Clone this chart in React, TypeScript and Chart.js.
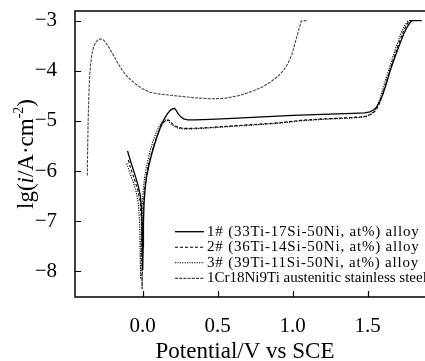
import React, { useEffect, useRef } from 'react';
import { Chart, registerables } from 'chart.js';

Chart.register(...registerables);

const FONT = "'Liberation Serif', 'Times New Roman', serif";

const X_TICKS = [0, 0.5, 1.0, 1.5];
const Y_TICKS = [-8, -7, -6, -5, -4, -3];
const X_MIN = -0.45;
const X_MAX = 1.882;
const Y_MIN = -8.51;
const Y_MAX = -2.81;

const LEGEND_LABELS = [
  '1# (33Ti-17Si-50Ni, at%) alloy',
  '2# (36Ti-14Si-50Ni, at%) alloy',
  '3# (39Ti-11Si-50Ni, at%) alloy',
  '1Cr18Ni9Ti austenitic stainless steel',
];

const X_TITLE = 'Potential/V vs SCE';

// 1# alloy (solid)
const alloy1X = [-0.100, -0.075, -0.050, -0.030, -0.014, -0.006, -0.002, 0.000, 0.002, 0.004, 0.006, 0.010, 0.017, 0.028, 0.045, 0.065, 0.085, 0.105, 0.125, 0.145, 0.165, 0.185, 0.200, 0.212, 0.224, 0.238, 0.255, 0.275, 0.300, 0.350, 0.450, 0.600, 0.800, 1.000, 1.200, 1.400, 1.480, 1.515, 1.540, 1.560, 1.580, 1.600, 1.625, 1.650, 1.680, 1.710, 1.740, 1.765, 1.785, 1.797, 1.860];
const alloy1Y = [-5.60, -5.85, -6.08, -6.28, -6.50, -6.80, -7.20, -7.60, -7.97, -7.50, -7.05, -6.65, -6.35, -6.10, -5.85, -5.62, -5.42, -5.24, -5.08, -4.96, -4.86, -4.79, -4.76, -4.75, -4.79, -4.86, -4.92, -4.96, -4.98, -4.98, -4.97, -4.95, -4.92, -4.89, -4.87, -4.85, -4.84, -4.82, -4.78, -4.72, -4.62, -4.48, -4.25, -4.00, -3.74, -3.50, -3.27, -3.12, -3.03, -3.00, -3.00];

// 2# alloy (dashed)
const alloy2X = [-0.095, -0.075, -0.052, -0.032, -0.016, -0.008, -0.005, -0.004, -0.003, -0.001, 0.001, 0.005, 0.012, 0.022, 0.038, 0.058, 0.078, 0.098, 0.118, 0.138, 0.155, 0.170, 0.182, 0.196, 0.215, 0.240, 0.270, 0.320, 0.400, 0.550, 0.700, 0.900, 1.050, 1.200, 1.350, 1.460, 1.500, 1.530, 1.555, 1.575, 1.595, 1.620, 1.645, 1.675, 1.705, 1.735, 1.758, 1.775, 1.785, 1.850];
const alloy2Y = [-5.78, -5.98, -6.18, -6.38, -6.60, -6.95, -7.40, -7.90, -8.35, -7.80, -7.20, -6.75, -6.42, -6.15, -5.90, -5.66, -5.46, -5.29, -5.14, -5.04, -4.99, -4.98, -5.00, -5.05, -5.10, -5.13, -5.15, -5.15, -5.14, -5.11, -5.08, -5.04, -4.99, -4.96, -4.94, -4.92, -4.90, -4.86, -4.79, -4.68, -4.52, -4.27, -4.02, -3.74, -3.48, -3.24, -3.09, -3.02, -3.00, -3.00];

// 3# alloy (dotted)
const alloy3X = [-0.105, -0.085, -0.062, -0.042, -0.028, -0.020, -0.017, -0.015, -0.013, -0.010, -0.007, -0.003, 0.004, 0.014, 0.030, 0.050, 0.070, 0.090, 0.110, 0.130, 0.148, 0.162, 0.175, 0.190, 0.210, 0.235, 0.270, 0.320, 0.400, 0.550, 0.700, 0.900, 1.050, 1.200, 1.350, 1.450, 1.490, 1.520, 1.545, 1.565, 1.585, 1.610, 1.635, 1.665, 1.695, 1.725, 1.750, 1.768, 1.778, 1.850];
const alloy3Y = [-5.85, -6.03, -6.22, -6.42, -6.65, -7.00, -7.40, -7.80, -8.15, -7.70, -7.15, -6.72, -6.40, -6.12, -5.86, -5.60, -5.40, -5.24, -5.11, -5.03, -4.99, -4.98, -5.01, -5.06, -5.11, -5.14, -5.16, -5.16, -5.15, -5.12, -5.09, -5.05, -5.00, -4.97, -4.95, -4.93, -4.91, -4.87, -4.80, -4.69, -4.53, -4.28, -4.03, -3.75, -3.48, -3.23, -3.08, -3.01, -3.00, -3.00];

// 1Cr18Ni9Ti stainless steel
const steelX = [-0.368, -0.366, -0.363, -0.359, -0.354, -0.347, -0.338, -0.326, -0.312, -0.298, -0.285, -0.273, -0.260, -0.245, -0.225, -0.200, -0.170, -0.140, -0.110, -0.080, -0.040, 0.000, 0.050, 0.100, 0.160, 0.250, 0.350, 0.450, 0.550, 0.650, 0.740, 0.800, 0.850, 0.900, 0.940, 0.970, 0.995, 1.015, 1.032, 1.047, 1.058, 1.095];
const steelY = [-6.09, -5.60, -5.10, -4.60, -4.20, -3.90, -3.68, -3.52, -3.43, -3.385, -3.37, -3.37, -3.39, -3.44, -3.53, -3.66, -3.82, -3.97, -4.09, -4.18, -4.28, -4.36, -4.43, -4.46, -4.48, -4.51, -4.54, -4.56, -4.55, -4.49, -4.40, -4.32, -4.23, -4.12, -3.99, -3.85, -3.68, -3.46, -3.28, -3.12, -3.01, -3.00];

const SERIES = [
  { label: LEGEND_LABELS[0], xs: alloy1X, ys: alloy1Y, color: '#000000', dash: [] as number[], width: 1.3, spacing: 0.8 },
  { label: LEGEND_LABELS[1], xs: alloy2X, ys: alloy2Y, color: '#000000', dash: [3, 2], width: 1.1, spacing: 0.8 },
  { label: LEGEND_LABELS[2], xs: alloy3X, ys: alloy3Y, color: '#000000', dash: [1.2, 1.2], width: 1.1, spacing: 0.8 },
  { label: LEGEND_LABELS[3], xs: steelX, ys: steelY, color: '#444444', dash: [3, 1.2], width: 1.1, spacing: 0 },
];

const fmtX = (v: number) => (v < 0 ? '\u2212' : '') + Math.abs(v).toFixed(1);
const fmtY = (v: number) => (v < 0 ? '\u2212' : '') + Math.abs(v).toString();

const decorPlugin = {
  id: 'decor',
  afterDatasetsDraw(chart: any) {
    const { ctx, chartArea, scales } = chart;
    const { left, top, right, bottom } = chartArea;
    const xs = scales.x;
    const ys = scales.y;
    ctx.save();
    // frame (left, top, bottom)
    ctx.strokeStyle = '#000';
    ctx.lineWidth = 1.5;
    ctx.setLineDash([]);
    ctx.beginPath();
    ctx.moveTo(right + 2, top);
    ctx.lineTo(left, top);
    ctx.lineTo(left, bottom);
    ctx.lineTo(right + 2, bottom);
    ctx.stroke();
    // inward ticks
    ctx.lineWidth = 1.2;
    ctx.beginPath();
    X_TICKS.forEach((v) => {
      const px = Math.round(xs.getPixelForValue(v)) + 0.5;
      ctx.moveTo(px, bottom);
      ctx.lineTo(px, bottom - 6);
    });
    Y_TICKS.forEach((v) => {
      const py = Math.round(ys.getPixelForValue(v)) + 0.5;
      ctx.moveTo(left, py);
      ctx.lineTo(left + 6, py);
    });
    ctx.stroke();

    // legend
    const legLineX0 = 175;
    const legLineX1 = 204;
    const legTextX = 207;
    const legTop = 231.7;
    const legRow = 15.55;
    ctx.font = `15px ${FONT}`;
    ctx.fillStyle = '#000';
    ctx.textBaseline = 'alphabetic';
    ctx.textAlign = 'left';
    SERIES.forEach((s, i) => {
      const cy = legTop + i * legRow;
      ctx.strokeStyle = s.color;
      ctx.lineWidth = s.width;
      ctx.setLineDash(s.dash);
      ctx.beginPath();
      ctx.moveTo(legLineX0, cy);
      ctx.lineTo(legLineX1, cy);
      ctx.stroke();
      if ('letterSpacing' in ctx) (ctx as any).letterSpacing = `${s.spacing}px`;
      ctx.fillText(s.label, legTextX, cy + 4);
    });
    if ('letterSpacing' in ctx) (ctx as any).letterSpacing = '0px';
    ctx.setLineDash([]);

    // x title
    ctx.font = `23px ${FONT}`;
    ctx.textAlign = 'center';
    ctx.fillText(X_TITLE, 245, 358);

    // y title: lg(i/A·cm^-2)
    const cyT = (top + bottom) / 2;
    ctx.translate(33, cyT);
    ctx.rotate(-Math.PI / 2);
    const parts = [
      { t: 'lg(', f: `23px ${FONT}`, dy: 0 },
      { t: 'i', f: `italic 23px ${FONT}`, dy: 0 },
      { t: '/A\u00b7cm', f: `23px ${FONT}`, dy: 0 },
      { t: '-2', f: `14px ${FONT}`, dy: -10 },
      { t: ')', f: `23px ${FONT}`, dy: 0 },
    ];
    let total = 0;
    parts.forEach((p) => {
      ctx.font = p.f;
      total += ctx.measureText(p.t).width;
    });
    let cx = -total / 2;
    ctx.textAlign = 'left';
    parts.forEach((p) => {
      ctx.font = p.f;
      ctx.fillText(p.t, cx, p.dy);
      cx += ctx.measureText(p.t).width;
    });
    ctx.restore();
  },
};

export default function App() {
  const ref = useRef<HTMLCanvasElement>(null);
  useEffect(() => {
    const canvas = ref.current;
    if (!canvas) return;
    const chart = new Chart(canvas, {
      type: 'scatter',
      data: {
        datasets: SERIES.map((s) => ({
          label: s.label,
          data: s.xs.map((x, i) => ({ x, y: s.ys[i] })),
          showLine: true,
          borderColor: s.color,
          borderWidth: s.width,
          borderDash: s.dash,
          pointRadius: 0,
          pointHoverRadius: 0,
          tension: 0,
          fill: false,
        })),
      },
      options: {
        animation: false,
        responsive: false,
        devicePixelRatio: 1,
        layout: { padding: { top: 11, right: 0, left: 0, bottom: 0 } },
        plugins: { legend: { display: false }, tooltip: { enabled: false } },
        scales: {
          x: {
            type: 'linear',
            min: X_MIN,
            max: X_MAX,
            afterBuildTicks: (s: any) => {
              s.ticks = X_TICKS.map((v) => ({ value: v }));
            },
            afterFit: (s: any) => {
              s.height = 64;
              s.paddingLeft = 0;
              s.paddingRight = 0;
            },
            ticks: {
              autoSkip: false,
              maxRotation: 0,
              padding: 9,
              color: '#000',
              font: { family: FONT, size: 21 },
              callback: (v: any) => fmtX(Number(v)),
            },
            grid: { display: false },
            border: { display: false },
          },
          y: {
            type: 'linear',
            min: Y_MIN,
            max: Y_MAX,
            afterBuildTicks: (s: any) => {
              s.ticks = Y_TICKS.map((v) => ({ value: v }));
            },
            afterFit: (s: any) => {
              s.width = 75;
              s.paddingTop = 0;
              s.paddingBottom = 0;
            },
            ticks: {
              autoSkip: false,
              padding: 10,
              color: '#000',
              font: { family: FONT, size: 21 },
              callback: (v: any) => fmtY(Number(v)),
            },
            grid: { display: false },
            border: { display: false },
          },
        },
      },
      plugins: [decorPlugin],
    });
    return () => chart.destroy();
  }, []);
  return (
    <div style={{ position: 'fixed', left: 0, top: 0, width: 425, height: 361, background: '#fff', overflow: 'hidden' }}>
      <canvas ref={ref} width={425} height={361} style={{ display: 'block' }} />
    </div>
  );
}
